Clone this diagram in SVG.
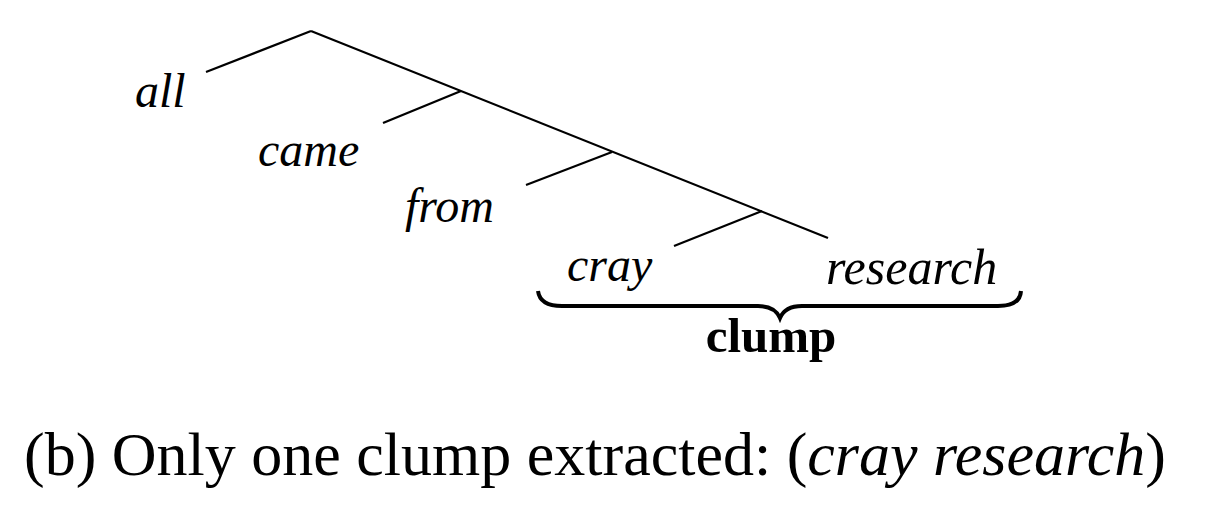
<svg xmlns="http://www.w3.org/2000/svg" width="1228" height="508" viewBox="0 0 1228 508">
<style>
.ln{stroke:#000;stroke-width:2.2;fill:none;stroke-linecap:butt}
.w{font-family:"Liberation Serif","Times New Roman",serif;font-style:italic;font-size:48px;fill:#000}
.b{font-family:"Liberation Serif","Times New Roman",serif;font-weight:bold;font-size:49px;fill:#000}
.cap{font-family:"Liberation Serif","Times New Roman",serif;font-size:62px;fill:#000}
</style>
<rect width="1228" height="508" fill="#fff"/>
<g id="connectors">
<line class="ln" x1="311" y1="31" x2="206" y2="72"/>
<line class="ln" x1="311" y1="31" x2="828" y2="238"/>
<line class="ln" x1="461" y1="91" x2="383" y2="123"/>
<line class="ln" x1="612" y1="152" x2="526" y2="185"/>
<line class="ln" x1="762" y1="211" x2="674" y2="246"/>
</g>
<g id="node-all"><text class="w" x="135" y="107">all</text></g>
<g id="node-came"><text class="w" x="258" y="166">came</text></g>
<g id="node-from"><text class="w" x="405" y="222">from</text></g>
<g id="node-cray"><text class="w" x="567" y="281">cray</text></g>
<g id="node-research"><text class="w" x="826" y="284" style="font-size:50px">research</text></g>
<g id="brace">
<path d="M538,291 Q540,306 562,306 L758,306 Q775,306 780,318 Q785,306 802,306 L998,306 Q1020,306 1021,291" stroke="#000" stroke-width="4" fill="none"/>
</g>
<g id="node-clump"><text class="b" x="771" y="352" text-anchor="middle">clump</text></g>
<g id="caption"><text class="cap" x="24" y="475">(b) Only one clump extracted: (<tspan font-style="italic">cray research</tspan>)</text></g>
</svg>
